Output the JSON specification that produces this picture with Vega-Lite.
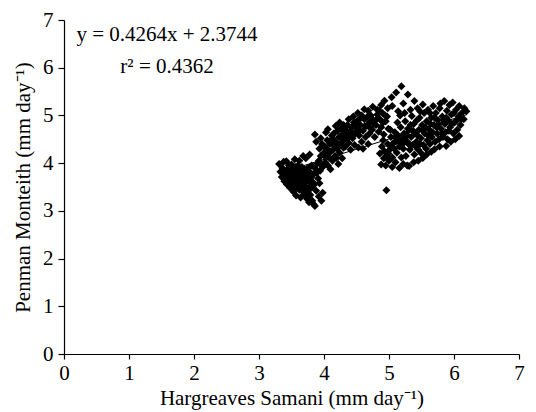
{
"$schema": "https://vega.github.io/schema/vega-lite/v6.json",
"width": 455, "height": 334,
"autosize": "none",
"padding": {"left": 64, "top": 20, "right": 17, "bottom": 58},
"background": "white",
"config": {
  "view": {"stroke": null},
  "font": "Liberation Serif",
  "axis": {"grid": false, "domainColor": "black", "domainWidth": 1.2, "tickColor": "black", "tickWidth": 1.2, "labelColor": "black", "titleColor": "black", "labelFont": "Liberation Serif", "titleFont": "Liberation Serif", "labelFontSize": 21, "titleFontSize": 21, "titleFontWeight": "normal", "labelFlush": false, "labelOverlap": false}
},
"datasets": {
"obs": [
{"hs":3.31,"pm":3.98},{"hs":3.33,"pm":3.82},{"hs":3.35,"pm":3.71},{"hs":3.36,"pm":3.90},{"hs":3.38,"pm":4.03},{"hs":3.39,"pm":3.62},{"hs":3.40,"pm":3.78},
{"hs":3.42,"pm":4.04},{"hs":3.43,"pm":3.55},{"hs":3.44,"pm":3.87},{"hs":3.45,"pm":3.69},{"hs":3.46,"pm":3.95},{"hs":3.47,"pm":3.77},{"hs":3.48,"pm":3.48},{"hs":3.49,"pm":3.62},{"hs":3.50,"pm":3.97},{"hs":3.50,"pm":3.84},
{"hs":3.51,"pm":3.71},{"hs":3.52,"pm":3.55},{"hs":3.53,"pm":3.40},{"hs":3.54,"pm":3.90},{"hs":3.55,"pm":3.64},{"hs":3.56,"pm":3.78},{"hs":3.57,"pm":3.32},{"hs":3.58,"pm":3.86},{"hs":3.59,"pm":3.50},{"hs":3.60,"pm":3.70},{"hs":3.60,"pm":3.95},
{"hs":3.61,"pm":3.60},{"hs":3.62,"pm":3.44},{"hs":3.63,"pm":3.81},{"hs":3.64,"pm":3.28},{"hs":3.65,"pm":3.73},{"hs":3.66,"pm":3.92},{"hs":3.67,"pm":3.55},{"hs":3.68,"pm":3.66},{"hs":3.69,"pm":3.38},{"hs":3.70,"pm":3.85},{"hs":3.70,"pm":3.35},
{"hs":3.71,"pm":3.58},{"hs":3.72,"pm":3.76},{"hs":3.73,"pm":3.47},{"hs":3.74,"pm":3.25},{"hs":3.75,"pm":3.90},{"hs":3.76,"pm":3.64},{"hs":3.77,"pm":3.18},{"hs":3.78,"pm":3.82},{"hs":3.79,"pm":3.52},{"hs":3.80,"pm":3.70},
{"hs":3.81,"pm":3.95},{"hs":3.82,"pm":3.21},{"hs":3.83,"pm":3.60},{"hs":3.84,"pm":3.14},{"hs":3.85,"pm":3.78},{"hs":3.86,"pm":3.10},{"hs":3.87,"pm":3.88},{"hs":3.88,"pm":3.42},{"hs":3.90,"pm":3.99},{"hs":3.91,"pm":3.68},{"hs":3.92,"pm":3.30},{"hs":3.94,"pm":3.84},{"hs":3.96,"pm":3.21},{"hs":3.97,"pm":3.95},{"hs":3.98,"pm":3.38},
{"hs":3.55,"pm":4.08},{"hs":3.62,"pm":4.05},{"hs":3.72,"pm":4.10},{"hs":3.78,"pm":4.18},{"hs":3.68,"pm":4.15},
{"hs":3.58,"pm":3.65},{"hs":3.64,"pm":3.58},{"hs":3.66,"pm":3.80},{"hs":3.72,"pm":3.62},{"hs":3.52,"pm":3.80},
{"hs":3.37,"pm":3.85},{"hs":3.41,"pm":3.66},{"hs":3.46,"pm":3.58},{"hs":3.49,"pm":3.74},{"hs":3.54,"pm":3.47},{"hs":3.57,"pm":3.60},{"hs":3.61,"pm":3.87},{"hs":3.63,"pm":3.52},{"hs":3.67,"pm":3.72},{"hs":3.69,"pm":3.48},
{"hs":3.74,"pm":3.70},{"hs":3.76,"pm":3.42},{"hs":3.79,"pm":3.33},{"hs":3.82,"pm":3.50},{"hs":3.85,"pm":3.55},{"hs":3.89,"pm":3.80},{"hs":3.93,"pm":3.58},{"hs":3.56,"pm":3.92},{"hs":3.44,"pm":3.78},{"hs":3.75,"pm":3.80},
{"hs":3.92,"pm":4.05},{"hs":3.95,"pm":4.15},{"hs":3.98,"pm":3.92},{"hs":4.00,"pm":4.22},{"hs":4.02,"pm":4.02},{"hs":4.04,"pm":4.30},{"hs":4.06,"pm":3.95},{"hs":4.08,"pm":4.12},{"hs":4.10,"pm":3.87},{"hs":4.11,"pm":4.25},
{"hs":4.13,"pm":4.05},{"hs":4.15,"pm":4.38},{"hs":4.17,"pm":4.15},{"hs":4.19,"pm":4.11},{"hs":4.20,"pm":4.30},{"hs":4.22,"pm":3.98},{"hs":4.24,"pm":4.22},{"hs":4.26,"pm":4.42},{"hs":4.28,"pm":4.10},{"hs":4.30,"pm":4.32},
{"hs":3.86,"pm":4.60},{"hs":3.88,"pm":4.45},{"hs":3.95,"pm":4.52},{"hs":4.03,"pm":4.64},{"hs":4.06,"pm":4.71},{"hs":4.12,"pm":4.58},{"hs":4.18,"pm":4.78},{"hs":4.24,"pm":4.85},{"hs":4.30,"pm":4.80},{"hs":4.38,"pm":4.92},
{"hs":4.45,"pm":4.98},{"hs":4.52,"pm":5.05},{"hs":4.58,"pm":5.00},{"hs":4.62,"pm":5.13},{"hs":4.68,"pm":5.10},{"hs":4.75,"pm":5.18},{"hs":4.82,"pm":5.12},{"hs":4.88,"pm":5.22},{"hs":4.93,"pm":5.31},{"hs":4.98,"pm":5.15},
{"hs":3.93,"pm":4.30},{"hs":3.97,"pm":4.40},{"hs":4.01,"pm":4.35},{"hs":4.05,"pm":4.48},{"hs":4.09,"pm":4.40},
{"hs":4.12,"pm":4.50},{"hs":4.15,"pm":4.62},{"hs":4.18,"pm":4.45},{"hs":4.21,"pm":4.68},{"hs":4.23,"pm":4.55},{"hs":4.26,"pm":4.72},{"hs":4.28,"pm":4.60},{"hs":4.30,"pm":4.48},
{"hs":4.32,"pm":4.70},{"hs":4.34,"pm":4.57},{"hs":4.36,"pm":4.80},{"hs":4.38,"pm":4.42},{"hs":4.40,"pm":4.65},{"hs":4.42,"pm":4.75},{"hs":4.44,"pm":4.52},{"hs":4.46,"pm":4.85},{"hs":4.48,"pm":4.62},{"hs":4.50,"pm":4.72},{"hs":4.33,"pm":4.35},{"hs":4.41,"pm":4.28},{"hs":4.47,"pm":4.38},
{"hs":4.52,"pm":4.90},{"hs":4.54,"pm":4.58},{"hs":4.56,"pm":4.80},{"hs":4.58,"pm":4.45},{"hs":4.60,"pm":4.68},{"hs":4.62,"pm":4.92},{"hs":4.64,"pm":4.55},{"hs":4.66,"pm":4.78},{"hs":4.68,"pm":4.40},{"hs":4.70,"pm":4.86},{"hs":4.53,"pm":4.33},{"hs":4.60,"pm":4.30},{"hs":4.67,"pm":4.98},{"hs":4.70,"pm":4.62},
{"hs":4.72,"pm":5.00},{"hs":4.74,"pm":4.70},{"hs":4.76,"pm":4.90},{"hs":4.78,"pm":4.55},{"hs":4.80,"pm":4.80},{"hs":4.82,"pm":5.02},{"hs":4.84,"pm":4.66},{"hs":4.86,"pm":4.92},{"hs":4.88,"pm":4.75},{"hs":4.90,"pm":5.05},{"hs":4.92,"pm":4.60},{"hs":4.95,"pm":4.88},{"hs":4.97,"pm":4.98},{"hs":4.99,"pm":4.72},
{"hs":4.03,"pm":4.12},{"hs":4.07,"pm":4.22},{"hs":4.14,"pm":4.28},{"hs":4.16,"pm":4.48},{"hs":4.22,"pm":4.38},{"hs":4.27,"pm":4.52},{"hs":4.35,"pm":4.50},{"hs":4.39,"pm":4.58},{"hs":4.43,"pm":4.65},{"hs":4.49,"pm":4.80},
{"hs":4.55,"pm":4.68},{"hs":4.57,"pm":4.95},{"hs":4.63,"pm":4.78},{"hs":4.71,"pm":4.74},{"hs":4.77,"pm":4.82},{"hs":4.81,"pm":4.92},{"hs":4.85,"pm":5.10},{"hs":4.91,"pm":4.85},{"hs":4.94,"pm":5.00},{"hs":4.35,"pm":4.68},
{"hs":5.04,"pm":5.38},{"hs":5.11,"pm":5.48},{"hs":5.19,"pm":5.61},{"hs":5.29,"pm":5.44},{"hs":5.39,"pm":5.30},{"hs":5.14,"pm":5.09},{"hs":5.05,"pm":5.20},{"hs":5.22,"pm":5.25},
{"hs":4.88,"pm":3.97},{"hs":4.92,"pm":4.10},{"hs":4.95,"pm":3.95},{"hs":5.00,"pm":4.05},{"hs":5.05,"pm":3.92},{"hs":5.10,"pm":4.02},{"hs":5.16,"pm":3.90},{"hs":5.22,"pm":3.98},{"hs":5.28,"pm":3.95},{"hs":5.31,"pm":3.94},
{"hs":5.38,"pm":4.02},{"hs":5.45,"pm":4.05},{"hs":5.52,"pm":4.11},{"hs":5.58,"pm":4.18},{"hs":5.65,"pm":4.24},{"hs":5.70,"pm":4.29},{"hs":5.78,"pm":4.35},{"hs":5.88,"pm":4.36},{"hs":5.95,"pm":4.45},{"hs":6.02,"pm":4.50},{"hs":6.08,"pm":4.57},
{"hs":4.86,"pm":4.20},{"hs":4.89,"pm":4.35},{"hs":4.91,"pm":4.48},{"hs":4.93,"pm":4.25},{"hs":4.96,"pm":4.15},{"hs":4.98,"pm":4.40},
{"hs":5.01,"pm":4.28},{"hs":5.03,"pm":4.55},{"hs":5.05,"pm":4.12},{"hs":5.07,"pm":4.42},{"hs":5.09,"pm":4.65},{"hs":5.11,"pm":4.46},{"hs":5.12,"pm":4.22},{"hs":5.14,"pm":4.58},{"hs":5.16,"pm":4.35},{"hs":5.18,"pm":4.75},{"hs":5.19,"pm":4.12},{"hs":5.20,"pm":4.50},{"hs":5.02,"pm":4.70},{"hs":5.13,"pm":4.85},{"hs":5.17,"pm":5.00},
{"hs":5.22,"pm":4.30},{"hs":5.23,"pm":4.62},{"hs":5.25,"pm":4.88},{"hs":5.26,"pm":4.15},{"hs":5.28,"pm":4.45},{"hs":5.29,"pm":4.72},{"hs":5.31,"pm":4.71},{"hs":5.32,"pm":4.28},{"hs":5.34,"pm":4.55},{"hs":5.35,"pm":4.99},{"hs":5.36,"pm":4.38},{"hs":5.38,"pm":4.82},{"hs":5.39,"pm":4.18},{"hs":5.40,"pm":4.62},{"hs":5.24,"pm":5.05},{"hs":5.33,"pm":5.12},
{"hs":5.42,"pm":4.45},{"hs":5.43,"pm":4.90},{"hs":5.45,"pm":4.28},{"hs":5.46,"pm":4.70},{"hs":5.47,"pm":4.95},{"hs":5.49,"pm":4.52},{"hs":5.50,"pm":4.20},{"hs":5.51,"pm":4.80},{"hs":5.53,"pm":4.38},{"hs":5.54,"pm":5.05},{"hs":5.55,"pm":4.62},{"hs":5.57,"pm":4.30},{"hs":5.58,"pm":4.88},{"hs":5.59,"pm":4.48},{"hs":5.60,"pm":5.12},{"hs":5.52,"pm":5.23},{"hs":5.44,"pm":5.15},
{"hs":5.62,"pm":4.70},{"hs":5.63,"pm":4.40},{"hs":5.65,"pm":4.95},{"hs":5.66,"pm":4.55},{"hs":5.68,"pm":5.20},{"hs":5.69,"pm":4.80},{"hs":5.71,"pm":4.45},{"hs":5.72,"pm":5.05},{"hs":5.74,"pm":4.62},{"hs":5.75,"pm":4.90},{"hs":5.77,"pm":4.50},{"hs":5.78,"pm":5.15},{"hs":5.80,"pm":4.72},{"hs":5.79,"pm":5.25},
{"hs":5.82,"pm":4.98},{"hs":5.83,"pm":4.55},{"hs":5.85,"pm":5.30},{"hs":5.86,"pm":4.82},{"hs":5.87,"pm":4.65},{"hs":5.89,"pm":5.10},{"hs":5.90,"pm":4.50},{"hs":5.91,"pm":4.90},{"hs":5.93,"pm":5.22},{"hs":5.94,"pm":4.75},{"hs":5.96,"pm":5.02},{"hs":5.98,"pm":5.27},{"hs":5.99,"pm":4.62},
{"hs":6.01,"pm":4.85},{"hs":6.03,"pm":5.12},{"hs":6.05,"pm":4.70},{"hs":6.07,"pm":4.98},{"hs":6.08,"pm":5.20},{"hs":6.10,"pm":4.80},{"hs":6.12,"pm":5.05},{"hs":6.15,"pm":4.92},{"hs":6.19,"pm":5.09},{"hs":6.16,"pm":5.15},
{"hs":4.99,"pm":4.20},{"hs":5.04,"pm":4.38},{"hs":5.08,"pm":4.30},{"hs":5.10,"pm":4.55},{"hs":5.15,"pm":4.45},{"hs":5.21,"pm":4.40},{"hs":5.24,"pm":4.52},{"hs":5.27,"pm":4.60},{"hs":5.30,"pm":4.40},{"hs":5.33,"pm":4.80},
{"hs":5.37,"pm":4.68},{"hs":5.41,"pm":4.35},{"hs":5.44,"pm":4.58},{"hs":5.48,"pm":4.40},{"hs":5.52,"pm":4.68},{"hs":5.56,"pm":4.75},{"hs":5.61,"pm":4.58},{"hs":5.64,"pm":4.82},{"hs":5.67,"pm":4.65},{"hs":5.70,"pm":4.95},
{"hs":5.73,"pm":4.75},{"hs":5.76,"pm":4.82},{"hs":5.81,"pm":4.62},{"hs":5.84,"pm":4.90},{"hs":5.88,"pm":4.95},{"hs":5.92,"pm":4.68},{"hs":5.97,"pm":4.82},{"hs":6.00,"pm":5.05},{"hs":6.04,"pm":4.90},{"hs":6.11,"pm":4.92},
{"hs":5.48,"pm":5.08},{"hs":5.63,"pm":5.05},
{"hs":4.96,"pm":3.43}
],
"trend": [{"hs":3.3,"pm":3.782},{"hs":6.2,"pm":5.018}]
},
"layer": [
{
 "data": {"name": "obs"},
 "mark": {"type": "point", "shape": "diamond", "filled": true, "color": "black", "size": 64, "opacity": 1},
 "encoding": {
  "x": {"field": "hs", "type": "quantitative", "scale": {"domain": [0, 7], "nice": false, "zero": true},
        "axis": {"title": "Hargreaves Samani (mm day⁻¹)", "values": [0,1,2,3,4,5,6,7], "format": "d", "tickSize": 5, "labelPadding": 3, "titlePadding": 4}},
  "y": {"field": "pm", "type": "quantitative", "scale": {"domain": [0, 7], "nice": false, "zero": true},
        "axis": {"title": "Penman Monteith (mm day⁻¹)", "values": [0,1,2,3,4,5,6,7], "format": "d", "tickSize": 6, "labelPadding": 5, "titlePadding": 9}}
 }
},
{
 "data": {"name": "trend"},
 "mark": {"type": "line", "color": "black", "strokeWidth": 1},
 "encoding": {
  "x": {"field": "hs", "type": "quantitative"},
  "y": {"field": "pm", "type": "quantitative"}
 }
},
{
 "data": {"values": [{}]},
 "mark": {"type": "text", "font": "Liberation Serif", "fontSize": 21, "color": "black", "align": "center", "baseline": "alphabetic"},
 "encoding": {"x": {"datum": 1.585}, "y": {"datum": 6.55}, "text": {"value": "y = 0.4264x + 2.3744"}}
},
{
 "data": {"values": [{}]},
 "mark": {"type": "text", "font": "Liberation Serif", "fontSize": 21, "color": "black", "align": "center", "baseline": "alphabetic"},
 "encoding": {"x": {"datum": 1.585}, "y": {"datum": 5.88}, "text": {"value": "r² = 0.4362"}}
}
]
}
